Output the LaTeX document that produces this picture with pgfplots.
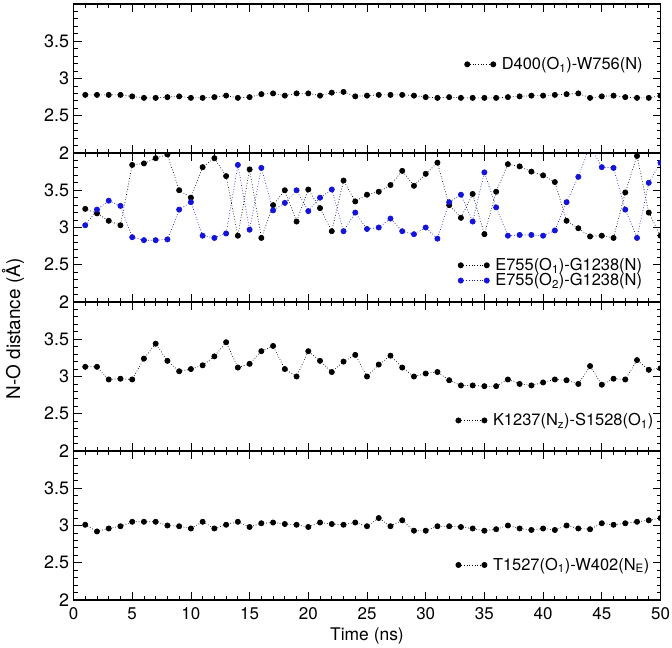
\documentclass[border=0pt]{standalone}
\usepackage{fontspec}
\setmainfont{TeX Gyre Heros}
\usepackage{pgfplots}
\usepackage{pgfplotstable}
\pgfplotsset{compat=1.18}

\definecolor{myblue}{rgb}{0.08,0.08,0.85}

\pgfplotstableread{
t y
1 2.78
2 2.78
3 2.78
4 2.78
5 2.76
6 2.74
7 2.74
8 2.75
9 2.76
10 2.74
11 2.74
12 2.75
13 2.77
14 2.74
15 2.75
16 2.79
17 2.80
18 2.77
19 2.80
20 2.80
21 2.77
22 2.81
23 2.82
24 2.76
25 2.77
26 2.78
27 2.78
28 2.78
29 2.77
30 2.75
31 2.74
32 2.75
33 2.74
34 2.74
35 2.74
36 2.74
37 2.75
38 2.76
39 2.77
40 2.77
41 2.78
42 2.79
43 2.80
44 2.74
45 2.76
46 2.77
47 2.75
48 2.74
49 2.74
50 2.77
}\dA

\pgfplotstableread{
t o1 o2
1 3.25 3.03
2 3.19 3.24
3 3.09 3.36
4 3.03 3.29
5 3.84 2.87
6 3.86 2.83
7 3.93 2.83
8 3.98 2.84
9 3.50 3.24
10 3.40 3.34
11 3.81 2.89
12 3.93 2.86
13 3.69 2.92
14 2.89 3.84
15 3.78 2.97
16 2.86 3.80
17 3.30 3.23
18 3.50 3.33
19 3.08 3.50
20 3.51 3.22
21 3.26 3.40
22 2.95 3.51
23 3.63 2.95
24 3.35 3.20
25 3.44 2.98
26 3.48 3.00
27 3.57 3.12
28 3.76 2.95
29 3.56 2.91
30 3.72 3.00
31 3.87 2.85
32 3.30 3.34
33 3.13 3.44
34 3.45 3.08
35 2.91 3.74
36 3.48 3.27
37 3.85 2.89
38 3.82 2.90
39 3.75 2.90
40 3.70 2.89
41 3.61 2.96
42 3.09 3.34
43 2.99 3.68
44 2.88 4.10
45 2.89 3.81
46 2.86 3.80
47 3.47 3.24
48 3.96 2.86
49 3.20 3.60
50 2.89 3.87
}\dB

\pgfplotstableread{
t y
1 3.13
2 3.13
3 2.96
4 2.97
5 2.96
6 3.24
7 3.44
8 3.21
9 3.07
10 3.10
11 3.15
12 3.27
13 3.46
14 3.12
15 3.17
16 3.34
17 3.41
18 3.10
19 3.00
20 3.34
21 3.21
22 3.06
23 3.20
24 3.29
25 3.00
26 3.16
27 3.28
28 3.12
29 3.00
30 3.04
31 3.06
32 2.95
33 2.88
34 2.88
35 2.87
36 2.87
37 2.96
38 2.90
39 2.88
40 2.92
41 2.96
42 2.95
43 2.90
44 3.14
45 2.89
46 2.97
47 2.96
48 3.22
49 3.09
50 3.11
}\dC

\pgfplotstableread{
t y
1 3.01
2 2.92
3 2.96
4 2.99
5 3.05
6 3.05
7 3.05
8 3.00
9 2.99
10 2.96
11 3.05
12 2.96
13 3.01
14 3.05
15 2.98
16 3.03
17 3.04
18 3.02
19 3.01
20 2.98
21 3.04
22 3.02
23 3.01
24 3.04
25 2.99
26 3.10
27 2.99
28 3.07
29 2.93
30 2.93
31 2.99
32 2.99
33 2.98
34 2.96
35 2.93
36 2.95
37 3.00
38 2.96
39 2.94
40 2.96
41 2.94
42 3.00
43 2.96
44 2.95
45 3.03
46 3.01
47 3.03
48 3.05
49 3.07
50 3.10
}\dD

\pgfplotsset{
  panel/.style={
    scale only axis, width=587bp, height=149bp,
    anchor=south west,
    xmin=0, xmax=50, ymin=2, ymax=4,
    xtick={0,5,...,50}, minor x tick num=4,
    ytick={2,2.5,3,3.5,4}, yticklabels={2,2.5,3,3.5,{}},
    minor ytick={2.1,2.2,2.3,2.4,2.6,2.7,2.8,2.9,3.1,3.2,3.3,3.4,3.6,3.7,3.8,3.9},
    tick align=inside, xtick pos=both, ytick pos=both,
    xticklabel pos=bottom, yticklabel pos=left,
    major tick length=8bp, minor tick length=4bp,
    /pgf/number format/assume math mode=true,
    yticklabel style={font=\fontsize{18}{18}\selectfont, xshift=-1bp},
    xticklabel style={font=\fontsize{17}{17}\selectfont, yshift=-4bp},
    axis line style={line width=1.1bp},
    every tick/.style={line width=0.8bp, black},
    clip marker paths=true,
    legend style={draw=none, fill=none, anchor=west,
      font=\fontsize{16.5}{18}\selectfont, row sep=-2.5bp, column sep=4bp,
      inner xsep=0pt, inner ysep=0pt},
    legend cell align=left,
    legend image code/.code={\draw[mark repeat=1,mark phase=1,#1] plot coordinates {(0bp,0bp) (26bp,0bp)};},
  },
  blk/.style={black, dotted, line width=0.7bp, mark=*, mark size=2.6bp, mark options={solid, fill=black}},
  blu/.style={myblue, dotted, line width=0.7bp, mark=*, mark size=2.6bp, mark options={solid, fill=myblue, draw=myblue}},
}

\begin{document}
\begin{tikzpicture}
\path[use as bounding box] (0,0) rectangle (672bp,648bp);

\begin{axis}[panel, at={(73.5bp,495bp)}, xticklabels={},
  legend style={at={(0.666,0.595)}}]
\addplot[blk] table[x=t,y=y] {\dA};
\addlegendentry{D400(O\textsubscript{1})-W756(N)}
\end{axis}

\begin{axis}[panel, at={(73.5bp,346bp)}, xticklabels={},
  legend style={at={(0.655,0.195)}}]
\addplot[blk] table[x=t,y=o1] {\dB};
\addlegendentry{E755(O\textsubscript{1})-G1238(N)}
\addplot[blu] table[x=t,y=o2] {\dB};
\addlegendentry{E755(O\textsubscript{2})-G1238(N)}
\end{axis}

\begin{axis}[panel, at={(73.5bp,197bp)}, xticklabels={},
  legend style={at={(0.651,0.205)}}]
\addplot[blk] table[x=t,y=y] {\dC};
\addlegendentry{K1237(N\textsubscript{z})-S1528(O\textsubscript{1})}
\end{axis}

\begin{axis}[panel, at={(73.5bp,48bp)},
  xlabel={Time (ns)},
  xlabel style={font=\fontsize{17.5}{18}\selectfont, yshift=-1bp},
  legend style={at={(0.651,0.235)}}]
\addplot[blk] table[x=t,y=y] {\dD};
\addlegendentry{T1527(O\textsubscript{1})-W402(N\textsubscript{E})}
\end{axis}

\node[rotate=90, font=\fontsize{19}{19}\selectfont] at (13bp,319bp) {N-O distance (Å)};
\end{tikzpicture}
\end{document}
